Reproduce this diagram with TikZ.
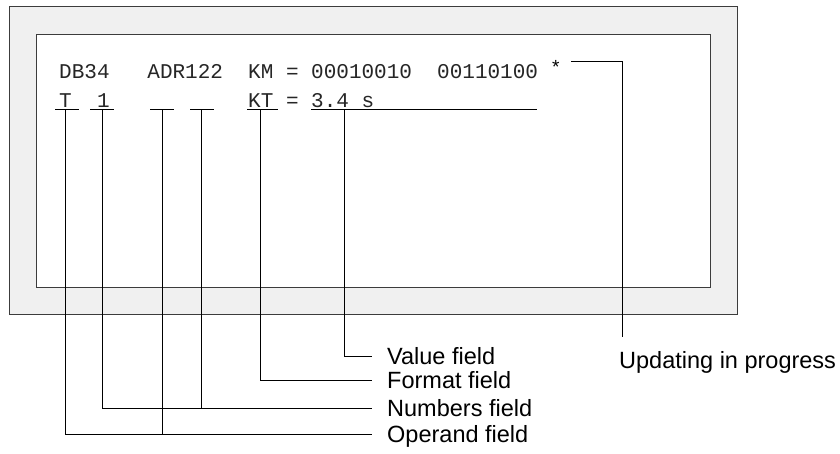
\documentclass[tikz,border=0pt]{standalone}
\usepackage{fontspec}
\setmainfont{Liberation Sans}
\setmonofont{Liberation Mono}
\usetikzlibrary{positioning, calc}
\definecolor{framegray}{RGB}{240,240,240}
\definecolor{panelline}{RGB}{60,60,60}
\tikzset{
    panel/.style={draw=panelline, line width=1pt},
    screentxt/.style={font=\fontsize{21}{25}\selectfont\ttfamily, anchor=base west, inner sep=0pt, text=black!85},
    fieldlbl/.style={font=\fontsize{23.5}{28}\selectfont, anchor=west, inner sep=0pt,
                     text height=16pt, text depth=0pt},
    uline/.style={line width=1pt},
    lead/.style={line width=1pt, shorten >=15pt}
}

\begin{document}
\begin{tikzpicture}[x=1pt, y=-1pt]
    \useasboundingbox (0,0) rectangle (840,454);

    % Panel
    \filldraw[panel, fill=framegray] (9,7) rectangle (737,314);
    \filldraw[panel, fill=white] (36,35) rectangle (710,287);

    % Screen text
    \node[screentxt] (row1) at (59,79) {DB34~~~ADR122~~KM~=~00010010~~00110100};
    \node[screentxt, font=\fontsize{19}{22}\selectfont, text=black] (star) at (552,74) {*};
    \node[screentxt] (row2) at (59,108) {T~~1~~~~~~~~~~~KT~=~3.4~s};

    % Underlines
    \coordinate (uOp)   at (65,110);
    \coordinate (uNum)  at (102,110);
    \coordinate (uOpB)  at (162,110);
    \coordinate (uNumB) at (201,110);
    \coordinate (uFmt)  at (260,110);
    \coordinate (uVal)  at (344,110);
    \draw[uline] (55,110) -- (79,110);
    \draw[uline] (90,110) -- (114,110);
    \draw[uline] (150,110) -- (174,110);
    \draw[uline] (190,110) -- (214,110);
    \draw[uline] (247,110) -- (278,110);
    \draw[uline] (311,110) -- (537,110);

    % Field labels
    \node[fieldlbl] (lblVal) at (387,356) {Value field};
    \node[fieldlbl] (lblFmt) at (387,380) {Format field};
    \node[fieldlbl] (lblNum) at (387,408) {Numbers field};
    \node[fieldlbl] (lblOp)  at (387,434) {Operand field};
    \node[fieldlbl] (lblUpd) at (619,360) {Updating in progress};

    % Leads
    \draw[lead] (uVal) |- (lblVal.west);
    \draw[lead] (uFmt) |- (lblFmt.west);
    \draw[lead] (uNum) |- (lblNum.west);
    \draw[uline] (uNumB) -- (uNumB |- lblNum.west);
    \draw[lead] (uOp) |- (lblOp.west);
    \draw[uline] (uOpB) -- (uOpB |- lblOp.west);

    % Updating marker
    \coordinate (updStart) at (571,62);
    \coordinate (updEnd)   at (622,337);
    \draw[uline] (updStart) -| (updEnd);
\end{tikzpicture}
\end{document}
